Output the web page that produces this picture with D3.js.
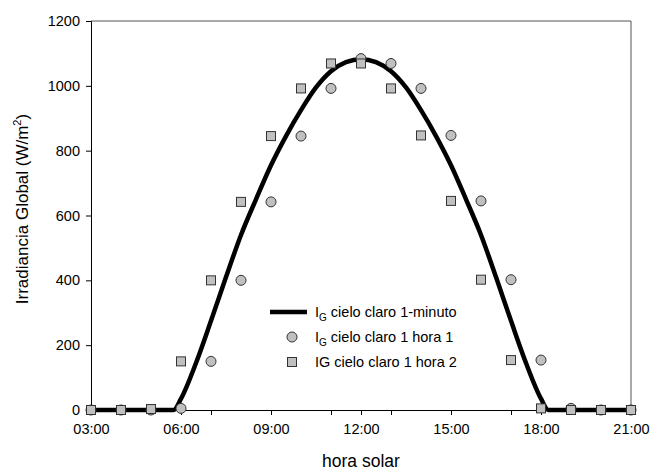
<!DOCTYPE html>
<html>
<head>
<meta charset="utf-8">
<script src="https://cdn.jsdelivr.net/npm/d3@7"></script>
<style>
  body { margin: 0; background: #fff; }
  text { font-family: Arial, "Liberation Sans", sans-serif; fill: #000; }
</style>
</head>
<body>
<svg id="chart" width="655" height="472"></svg>
<script>
// hourly markers (solar hour)
var markerHours = [3, 4, 5, 6, 7, 8, 9, 10, 11, 12, 13, 14, 15, 16, 17, 18, 19, 20, 21]
// IG cielo claro 1 hora 1 (circles)
var hora1 = [0, 0, 0, 5, 150, 400, 642, 845, 992, 1084, 1069, 992, 847, 645, 402, 154, 5, 0, 0]
// IG cielo claro 1 hora 2 (squares)
var hora2 = [0, 0, 3, 150, 400, 642, 845, 992, 1069, 1069, 992, 847, 645, 402, 154, 5, 0, 0, 0]

// IG cielo claro 1-minuto
var minutoHours = [3, 4, 5, 5.5, 5.75, 6, 6.5, 7, 7.5, 8, 8.5, 9, 9.5, 10, 10.5, 11, 11.5, 12,
                   12.5, 13, 13.5, 14, 14.5, 15, 15.5, 16, 16.5, 17, 17.5, 18, 18.25, 18.5, 19, 20, 21]
var minutoValues = [0, 0, 0, 0, 0, 35, 145, 275, 410, 540, 650, 755, 845, 925, 995, 1045, 1073, 1082,
                    1073, 1045, 995, 925, 845, 755, 650, 540, 410, 275, 145, 35, 0, 0, 0, 0, 0]

var xLabelHours = [3, 6, 9, 12, 15, 18, 21]
var xLabels = ["03:00", "06:00", "09:00", "12:00", "15:00", "18:00", "21:00"]
var xTickHours = [3, 5, 6, 7, 9, 11, 12, 13, 15, 17, 18, 19, 21]
var yTicks = [0, 200, 400, 600, 800, 1000, 1200]

var legendLabels = ["cielo claro 1-minuto", "cielo claro 1 hora 1", "IG cielo claro 1 hora 2"]

var svg = d3.select("#chart")

var pLeft = 91, pRight = 631, pTop = 21, pBottom = 410

var x = d3.scaleLinear().domain([3, 21]).range([pLeft, pRight])
var y = d3.scaleLinear().domain([0, 1200]).range([pBottom, pTop])

// frame (top and right)
svg.append("line").attr("x1", pLeft).attr("x2", pRight).attr("y1", pTop).attr("y2", pTop)
  .attr("stroke", "#555").attr("stroke-width", 1)
svg.append("line").attr("x1", pRight).attr("x2", pRight).attr("y1", pTop).attr("y2", pBottom)
  .attr("stroke", "#555").attr("stroke-width", 1)

// y axis
var yAxis = d3.axisLeft(y).tickValues(yTicks).tickSize(5).tickPadding(6).tickFormat(d3.format("d"))
var gy = svg.append("g").attr("transform", "translate(" + pLeft + ",0)").call(yAxis)
gy.selectAll("text").style("font-size", "14.5px").style("font-family", "Arial, 'Liberation Sans', sans-serif")

// x axis: ticks and labels
var xAxis = d3.axisBottom(x).tickValues(xTickHours).tickSize(5).tickPadding(9)
  .tickFormat(function(d) { var i = xLabelHours.indexOf(d); return i < 0 ? "" : xLabels[i] })
var gx = svg.append("g").attr("transform", "translate(0," + pBottom + ")").call(xAxis)
gx.selectAll("text").style("font-size", "14.5px").style("font-family", "Arial, 'Liberation Sans', sans-serif")

svg.selectAll(".domain").attr("stroke", "#000")

// axis titles
svg.append("text").attr("x", (pLeft + pRight) / 2).attr("y", 467)
  .attr("text-anchor", "middle").style("font-size", "17.5px").text("hora solar")

var yt = svg.append("text").attr("transform", "translate(28,209) rotate(-90)")
  .attr("text-anchor", "middle").style("font-size", "17px")
yt.append("tspan").text("Irradiancia Global (W/m")
yt.append("tspan").attr("dy", -7).style("font-size", "11px").text("2")
yt.append("tspan").attr("dy", 7).text(")")

// 1-minuto curve
var line = d3.line().x(function(d, i) { return x(minutoHours[i]) })
  .y(function(d) { return y(d) }).curve(d3.curveMonotoneX)
svg.append("path").datum(minutoValues).attr("d", line)
  .attr("fill", "none").attr("stroke", "#000").attr("stroke-width", 4.5)
  .attr("stroke-linejoin", "round")

// circles
svg.selectAll("circle.h1").data(hora1).enter().append("circle").attr("class", "h1")
  .attr("cx", function(d, i) { return x(markerHours[i]) })
  .attr("cy", function(d) { return y(d) })
  .attr("r", 5).attr("fill", "#c0c0c0").attr("stroke", "#333").attr("stroke-width", 1)

// squares
var s = 9
svg.selectAll("rect.h2").data(hora2).enter().append("rect").attr("class", "h2")
  .attr("x", function(d, i) { return x(markerHours[i]) - s / 2 })
  .attr("y", function(d) { return y(d) - s / 2 })
  .attr("width", s).attr("height", s)
  .attr("fill", "#c0c0c0").attr("stroke", "#333").attr("stroke-width", 1)

// legend
var lx = 292, ly0 = 312, dy = 25, tx = 315
var lg = svg.append("g")
lg.append("line").attr("x1", lx - 22).attr("x2", lx + 15).attr("y1", ly0).attr("y2", ly0)
  .attr("stroke", "#000").attr("stroke-width", 4.5)
lg.append("circle").attr("cx", lx).attr("cy", ly0 + dy).attr("r", 5)
  .attr("fill", "#c0c0c0").attr("stroke", "#333")
lg.append("rect").attr("x", lx - s / 2).attr("y", ly0 + 2 * dy - s / 2).attr("width", s).attr("height", s)
  .attr("fill", "#c0c0c0").attr("stroke", "#333")

legendLabels.forEach(function(lab, i) {
  var t = lg.append("text").attr("x", tx).attr("y", ly0 + i * dy + 5).style("font-size", "14.5px")
  if (i < 2) {
    t.append("tspan").text("I")
    t.append("tspan").attr("dy", 4).style("font-size", "10px").text("G")
    t.append("tspan").attr("dy", -4).text(" " + lab)
  } else {
    t.text(lab)
  }
})
</script>
</body>
</html>
